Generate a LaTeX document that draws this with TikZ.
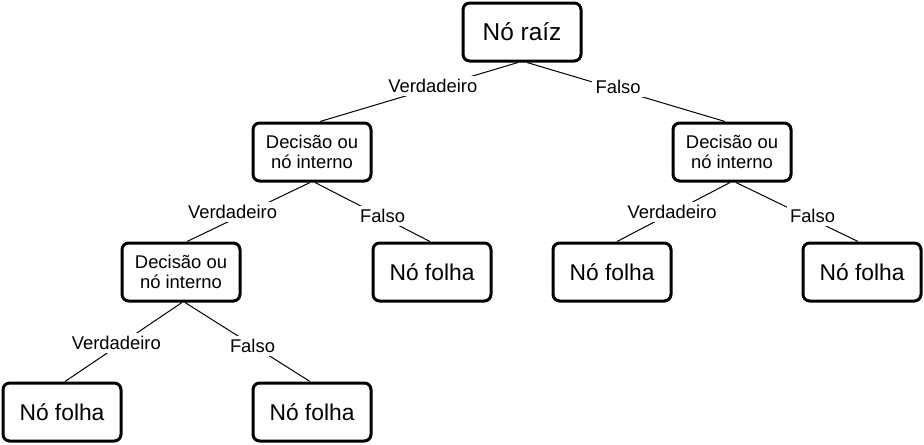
\documentclass[tikz,border=0pt]{standalone}
\usepackage{fontspec}
\setmainfont{Liberation Sans}
\usetikzlibrary{calc}

\begin{document}
\begin{tikzpicture}[
    x=0.75pt, y=-0.75pt,
    e/.style={
        draw, rounded corners=5pt, line width=2.25pt,
        minimum width=88.5pt, minimum height=43.5pt, inner sep=0pt,
        align=center
    },
    big/.style={font={\fontsize{18.3}{21}\selectfont}},
    lf/.style={font={\fontsize{17.1}{20}\selectfont}},
    dc/.style={font={\fontsize{13.8}{15}\selectfont}},
    l/.style={line width=0.75pt},
    lb/.style={fill=white, inner sep=2.5pt, font={\fontsize{13.8}{16}\selectfont}}
]
    \useasboundingbox (0,0) rectangle (924,444);

    \node [e, big] (R)  at (522,  32) {Nó raíz};
    \node [e, dc]  (D1) at (312, 152) {Decisão ou\\nó interno};
    \node [e, dc]  (D2) at (732, 152) {Decisão ou\\nó interno};
    \node [e, dc]  (D3) at (181, 272) {Decisão ou\\nó interno};
    \node [e, lf]  (F1) at (432, 272) {Nó folha};
    \node [e, lf]  (F2) at (612, 272) {Nó folha};
    \node [e, lf]  (F3) at (862, 272) {Nó folha};
    \node [e, lf]  (F4) at ( 62, 412) {Nó folha};
    \node [e, lf]  (F5) at (312, 412) {Nó folha};

    \draw [l] ($(R.south)+(-4,0)$) -- node [lb, pos=0.43, yshift=1.5pt] {Verdadeiro} ($(D1.north)+(8,0)$);
    \draw [l] ($(R.south)+(5,0)$) -- node [lb, pos=0.46, yshift=2.25pt] {Falso} ($(D2.north)+(-7,0)$);
    \draw [l] ($(D1.south)+(-2,0)$) -- node [lb, pos=0.63, yshift=6pt] {Verdadeiro} ($(D3.north)+(6,0)$);
    \draw [l] ($(D1.south)+(3,0)$) -- node [lb, pos=0.587, yshift=1.1pt] {Falso} ($(F1.north)+(-2,0)$);
    \draw [l] ($(D2.south)+(-2,0)$) -- node [lb, pos=0.513, yshift=0.75pt] {Verdadeiro} ($(F2.north)+(5,0)$);
    \draw [l] ($(D2.south)+(4,0)$) -- node [lb, pos=0.627, yshift=3pt] {Falso} ($(F3.north)+(-4,0)$);
    \draw [l] ($(D3.south)+(1,0)$) -- node [lb, pos=0.561, yshift=3pt] {Verdadeiro} ($(F4.north)+(3,0)$);
    \draw [l] ($(D3.south)+(4,0)$) -- node [lb, pos=0.54, yshift=-0.75pt] {Falso} ($(F5.north)+(-2,0)$);

\end{tikzpicture}
\end{document}
